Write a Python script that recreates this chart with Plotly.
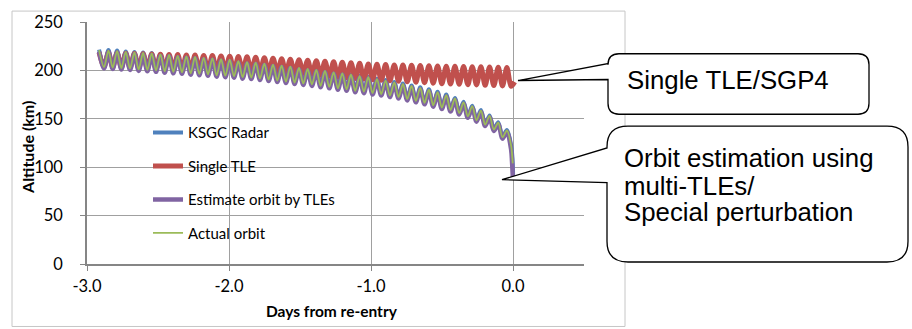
import plotly.graph_objects as go

# ---------------- data ----------------
peak_days = [-2.915, -2.849, -2.788, -2.727, -2.666, -2.605, -2.544, -2.483, -2.422, -2.361,
             -2.300, -2.239, -2.178, -2.117, -2.056, -1.995, -1.934, -1.873, -1.812, -1.751,
             -1.690, -1.629, -1.568, -1.507, -1.446, -1.385, -1.324, -1.263, -1.202, -1.141,
             -1.080, -1.019, -0.958, -0.897, -0.836, -0.775, -0.714, -0.653, -0.592, -0.531,
             -0.470, -0.409, -0.348, -0.287, -0.226, -0.165, -0.104, -0.043]
trough_days = [-2.880, -2.819, -2.758, -2.697, -2.636, -2.575, -2.514, -2.453, -2.392, -2.331,
               -2.270, -2.209, -2.148, -2.087, -2.026, -1.965, -1.904, -1.843, -1.782, -1.721,
               -1.660, -1.599, -1.538, -1.477, -1.416, -1.355, -1.294, -1.233, -1.172, -1.111,
               -1.050, -0.989, -0.928, -0.867, -0.806, -0.745, -0.684, -0.623, -0.562, -0.501,
               -0.440, -0.379, -0.318, -0.257, -0.196, -0.135, -0.074, -0.013]

radar_peaks = [221.5, 221, 220.5, 219.5, 219, 218.5, 218, 217, 216.5, 215.5, 215, 214.5, 213.5, 213,
               212, 211.5, 210, 209, 208.5, 207.5, 206.5, 205.5, 204.5, 203, 202, 201, 200, 198.5,
               197.5, 196, 194.5, 193.5, 191.5, 190, 188, 186.5, 184.5, 182.5, 180.5, 178, 175,
               171.5, 167.5, 163.5, 159, 153.5, 146.5, 138.5]
radar_troughs = [204, 203.5, 203, 202.5, 201.5, 201, 200.5, 199.5, 199, 198.5, 197.5, 197, 196.5,
                 195.5, 195, 194.5, 193.5, 193, 192, 191, 190, 189, 188, 187, 186, 184.5, 183.5, 182,
                 181, 179.5, 178.5, 177, 176, 174.5, 173, 171, 169, 167, 164.5, 162, 159.5, 156.5,
                 153, 149, 144.5, 139.5, 131.5, 122.5]
radar_tail_days = [-0.004, 0.0, 0.001]
radar_tail = [110, 97, 90]

single_peaks = [218.5, 218.3, 218, 217.8, 217.5, 217.3, 217, 216.8, 216.5, 216.3, 216, 215.8, 215.5,
                215.3, 215, 214.7, 214.3, 214, 213.5, 213, 212.5, 212, 211.5, 211, 210.5, 210, 209.5,
                209, 208.5, 208, 207.3, 206.7, 206.3, 206, 205.7, 205.5, 205.3, 205, 204.8, 204.6,
                204.4, 204.2, 204, 203.8, 203.7, 203.5, 203.3, 203.1]
single_troughs = [204, 203.5, 203, 202.8, 202.4, 202, 201.7, 201.4, 201.1, 200.8, 200.5, 200.3, 200,
                  199.9, 199.7, 199.5, 199.2, 199, 198.7, 198.4, 198, 197.7, 197.4, 197, 196, 195, 194,
                  193, 192.3, 191.7, 191, 190.3, 189.8, 189.3, 188.8, 188.3, 187.8, 187.3, 186.8,
                  186.3, 186, 185.6, 185.3, 185, 184.6, 184.3, 184, 183.6]
single_tail_days = [0.012]
single_tail = [188]

estimate_peaks = [219.5, 219, 218.5, 217.5, 217, 216.5, 216, 215, 214.5, 213.5, 213, 212.5, 211.5,
                  211, 210, 209.5, 208, 207, 206.5, 205.5, 204.5, 203.5, 202.5, 201, 200, 199, 198,
                  196.5, 195.5, 194, 192.5, 191.5, 189.5, 188, 186, 184.5, 182.5, 180.5, 178.5, 176,
                  173, 169.5, 165.5, 161.5, 157, 151.5, 144.5, 136.5]
estimate_troughs = [202, 201.5, 201, 200.5, 199.5, 199, 198.5, 197.5, 197, 196.5, 195.5, 195, 194.5,
                    193.5, 193, 192.5, 191.5, 191, 190, 189, 188, 187, 186, 185, 184, 182.5, 181.5,
                    180, 179, 177.5, 176.5, 175, 174, 172.5, 171, 169, 167, 165, 162.5, 160, 157.5,
                    154.5, 151, 147, 142.5, 137.5, 129.5, 118]
estimate_tail_days = [-0.007, -0.003, -0.001]
estimate_tail = [106, 95, 89]

actual_peaks = [221, 220.5, 220, 219, 218.5, 218, 217.5, 216.5, 216, 215, 214.5, 214, 213, 212.5,
                211.5, 211, 209.5, 208.5, 208, 207, 206, 205, 204, 202.5, 201.5, 200.5, 199.5, 198,
                197, 195.5, 194, 193, 191, 189.5, 187.5, 186, 184, 182, 180, 177.5, 174.5, 171, 167,
                163, 158.5, 153, 146, 138]
actual_troughs = [203.5, 203, 202.5, 202, 201, 200.5, 200, 199, 198.5, 198, 197, 196.5, 196, 195,
                  194.5, 194, 193, 192.5, 191.5, 190.5, 189.5, 188.5, 187.5, 186.5, 185.5, 184, 183,
                  181.5, 180.5, 179, 178, 176.5, 175.5, 174, 172.5, 170.5, 168.5, 166.5, 164, 161.5,
                  159, 156, 152.5, 148.5, 144, 139, 131, 122]
actual_tail_days = [-0.006, -0.002]
actual_tail = [112, 104]

x_tick_vals = [-3, -2, -1, 0]
x_tick_text = ["-3.0", "-2.0", "-1.0", "0.0"]
y_tick_vals = [0, 50, 100, 150, 200, 250]

series_names = ["KSGC Radar", "Single TLE", "Estimate orbit by TLEs", "Actual orbit"]
callout_texts = ["Single TLE/SGP4", "Orbit estimation using", "multi-TLEs/", "Special perturbation"]


def interleave(p_vals, t_vals, tail_d, tail_v):
    xs, ys = [], []
    for pd_, td_, pv, tv in zip(peak_days, trough_days, p_vals, t_vals):
        xs += [pd_, td_]
        ys += [pv, tv]
    return xs + tail_d, ys + tail_v


# ---------------- layout geometry (pixels) ----------------
W, H = 912, 329
PL, PR, PT, PB = 87, 584, 20, 264


def px(x):
    return (x - PL) / (PR - PL)


def py(y):
    return (PB - y) / (PB - PT)


fig = go.Figure()

styles = [("#4F81BD", 4.0), ("#C0504D", 5.0), ("#8064A2", 4.5), ("#9BBB59", 1.8)]
data = [
    interleave(radar_peaks, radar_troughs, radar_tail_days, radar_tail),
    interleave(single_peaks, single_troughs, single_tail_days, single_tail),
    interleave(estimate_peaks, estimate_troughs, estimate_tail_days, estimate_tail),
    interleave(actual_peaks, actual_troughs, actual_tail_days, actual_tail),
]
for i, (name, (xs, ys), (col, lw)) in enumerate(zip(series_names, data, styles)):
    fig.add_trace(go.Scatter(
        x=xs, y=ys, mode="lines", name=name, legendgroup=f"g{i}",
        line=dict(color=col, width=lw, shape="spline", smoothing=0.9),
    ))

shapes = []
# outer chart frame
shapes.append(dict(type="rect", xref="paper", yref="paper", x0=px(12), x1=px(625),
                   y0=py(327), y1=py(9), line=dict(color="#c6c6c6", width=1), layer="below"))
# white legend backdrop that hides gridlines
shapes.append(dict(type="rect", xref="paper", yref="paper", x0=px(108), x1=px(381),
                   y0=py(252), y1=py(115), line=dict(width=0), fillcolor="white", layer="between"))


def callout_path(x0, y0, x1, y1, r, tip, bt, bb):
    def P(x, y):
        return f"{px(x):.5f},{py(y):.5f}"
    s = (f"M{P(x0 + r, y0)} L{P(x1 - r, y0)} Q{P(x1, y0)} {P(x1, y0 + r)} "
         f"L{P(x1, y1 - r)} Q{P(x1, y1)} {P(x1 - r, y1)} L{P(x0 + r, y1)} "
         f"Q{P(x0, y1)} {P(x0, y1 - r)} L{P(x0, bb)} L{P(tip[0], tip[1])} L{P(x0, bt)} "
         f"L{P(x0, y0 + r)} Q{P(x0, y0)} {P(x0 + r, y0)} Z")
    return s


shapes.append(dict(type="path", xref="paper", yref="paper",
                   path=callout_path(608, 52, 869, 113, 11, (518, 79), 62, 78),
                   line=dict(color="black", width=1.3), fillcolor="white", layer="above"))
shapes.append(dict(type="path", xref="paper", yref="paper",
                   path=callout_path(607, 125, 908, 262, 21, (502, 179), 147, 182),
                   line=dict(color="black", width=1.3), fillcolor="white", layer="above"))

annotations = []
cfont = dict(family="Liberation Sans, Arial", size=25.8, color="black")
for txt, xx, yy in zip(callout_texts, [625, 622, 622, 622], [78, 157, 185, 212]):
    annotations.append(dict(text=txt, xref="paper", yref="paper", x=px(xx), y=py(yy),
                            xanchor="left", yanchor="middle", showarrow=False, font=cfont))
annotations.append(dict(text="<b>Altitude (km)</b>", xref="paper", yref="paper", x=px(28), y=py(147),
                        xanchor="center", yanchor="middle", textangle=-90, showarrow=False,
                        font=dict(family="Lato", size=16, color="black")))
annotations.append(dict(text="<b>Days from re-entry</b>", xref="paper", yref="paper", x=px(332), y=py(311),
                        xanchor="center", yanchor="middle", showarrow=False,
                        font=dict(family="Lato", size=15.5, color="black")))

fig.update_layout(
    width=W, height=H,
    margin=dict(l=PL, r=W - PR, t=PT, b=H - PB, pad=0),
    paper_bgcolor="white", plot_bgcolor="white",
    font=dict(family="Lato", size=15, color="black"),
    shapes=shapes, annotations=annotations,
    showlegend=True,
    legend=dict(x=px(148), y=py(115), xanchor="left", yanchor="top",
                bgcolor="rgba(0,0,0,0)", font=dict(family="Lato", size=15, color="black"),
                tracegroupgap=11, itemwidth=30),
    xaxis=dict(range=[-3, 0.5], tickvals=x_tick_vals, ticktext=x_tick_text,
               tickfont=dict(family="Lato", size=16.5, color="black"),
               showgrid=True, gridcolor="#a0a0a0", gridwidth=1,
               showline=True, linecolor="#868686", linewidth=1.5,
               ticks="outside", ticklen=5, tickcolor="#868686", zeroline=False,
               ticklabelstandoff=1),
    yaxis=dict(range=[0, 250], tickvals=y_tick_vals,
               tickfont=dict(family="Lato", size=16.5, color="black"),
               showgrid=True, gridcolor="#a0a0a0", gridwidth=1,
               showline=True, linecolor="#868686", linewidth=1.5,
               ticks="outside", ticklen=5, tickcolor="#868686", zeroline=False,
               ticklabelstandoff=14),
)

fig.write_html("out.html", config={"displayModeBar": False},
               post_script="document.body.style.margin='0';document.body.style.overflow='hidden';")
